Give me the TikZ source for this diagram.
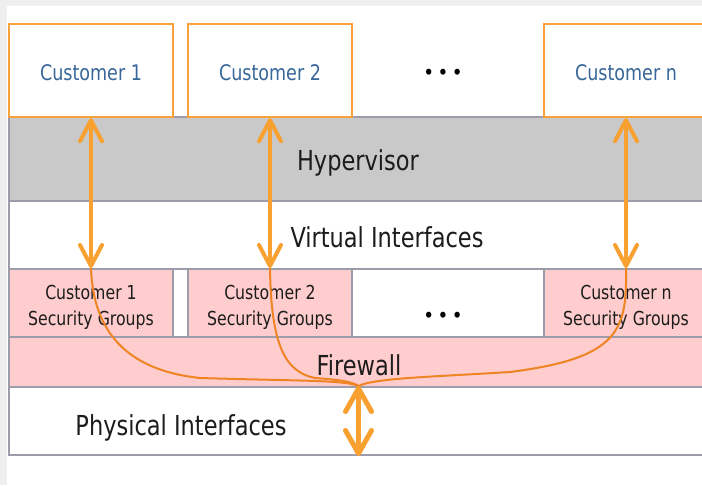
\documentclass[tikz,border=0pt]{standalone}
\usepackage{fontspec}
\setmainfont{DejaVu Sans Condensed}
\usetikzlibrary{arrows.meta}
\definecolor{pagegray}{HTML}{EFEFEF}
\definecolor{edgegray}{HTML}{9C9CAA}
\definecolor{hypgray}{HTML}{C9C9C9}
\definecolor{fwpink}{HTML}{FFCDCD}
\definecolor{boxorange}{HTML}{F9A23C}
\definecolor{arroworange}{HTML}{F8A030}
\definecolor{pathorange}{HTML}{EF8424}
\definecolor{custblue}{HTML}{38679A}
\definecolor{textdark}{HTML}{1C1C1C}
% slightly taller lettering
\newcommand\tallbox[1]{\scalebox{1}[1.1]{#1}}
% lower the lettering without changing the box it sits in
\newcommand\lowerby[2]{\raisebox{-#1}[\height][\depth]{#2}}
\newcommand\threedots{•\hspace{4.5pt}•\hspace{4.5pt}•}
\tikzset{
  band/.style={draw=edgegray, line width=2pt, inner sep=0pt, minimum width=699pt},
  custbox/.style={draw=boxorange, line width=2.4pt, fill=white, inner sep=0pt,
    minimum width=164pt, minimum height=93pt, text=custblue, font=\fontsize{19.5}{22}\selectfont},
  sgbox/.style={draw=edgegray, line width=2pt, fill=fwpink, inner sep=0pt,
    minimum width=164pt, minimum height=68pt, text=textdark,
    font=\fontsize{17.5}{24}\selectfont},
  bigtext/.style={text=textdark, font=\fontsize{25}{28}\selectfont, inner sep=0pt},
  dotstext/.style={font=\fontsize{17}{20}\selectfont\bfseries, inner sep=0pt},
  duplex/.style={draw=arroworange, line width=4pt,
    {Straight Barb[length=21pt,width=22pt,round]}-{Straight Barb[length=21pt,width=22pt,round]}},
  trunk/.style={draw=arroworange, line width=5pt,
    {Straight Barb[length=23pt,width=26pt,round]}-{Straight Barb[length=23pt,width=26pt,round]}},
  route/.style={draw=pathorange, line width=2pt}
}
\newcommand\sglabel[1]{\lowerby{4.5pt}{\tallbox{\begin{tabular}{@{}c@{}}Customer #1\\Security Groups\end{tabular}}}}
\begin{document}
\begin{tikzpicture}[x=1pt,y=-1pt]
  \useasboundingbox (0,0) rectangle (702,485);
  \clip (0,0) rectangle (702,485);
  % page and white panel
  \fill[pagegray] (0,0) rectangle (702,485);
  \fill[white] (7,6) rectangle (710,490);

  % stacked layers
  \node[band, fill=hypgray, minimum height=84pt] (hyp) at (358.5,159) {};
  \node[band, fill=white, minimum height=68pt] (vif) at (358.5,235) {};
  \node[band, fill=white, minimum height=68pt] (sgrow) at (358.5,303) {};
  \node[band, fill=fwpink, minimum height=50pt] (fw) at (358.5,362) {};
  \node[band, fill=white, minimum height=68pt] (phys) at (358.5,421) {};

  % per-customer security groups
  \node[sgbox] (sg1) at (91,303) {\sglabel{1}};
  \node[sgbox] (sg2) at (270,303) {\sglabel{2}};
  \node[sgbox] (sgn) at (626,303) {\sglabel{n}};
  \node[dotstext] (sgdots) at (443,317) {\threedots};

  % customers
  \node[custbox] (c1) at (91,70.5) {\lowerby{2pt}{\tallbox{Customer 1}}};
  \node[custbox] (c2) at (270,70.5) {\lowerby{2pt}{\tallbox{Customer 2}}};
  \node[custbox] (cn) at (626,70.5) {\lowerby{2pt}{\tallbox{Customer n}}};
  \node[dotstext] (cdots) at (443,74) {\threedots};

  % layer labels
  \node[bigtext] (hyplabel) at (358,163) {\tallbox{Hypervisor}};
  \node[bigtext] (viflabel) at (387,237) {\tallbox{Virtual Interfaces}};
  \node[bigtext] (fwlabel) at (359,365) {\tallbox{Firewall}};
  \node[bigtext] (physlabel) at (181,428) {\tallbox{Physical Interfaces}};

  % traffic from each security group into the shared uplink
  \coordinate (merge) at (phys.north);
  \draw[route] (sg1.north) .. controls (93,330) and (125,370) .. (200,378)
                           .. controls (300,381) and (345,380) .. (merge);
  \draw[route] (sg2.north) .. controls (271,345) and (285,372) .. (315,378)
                           .. controls (340,380) and (350,381) .. (merge);
  \draw[route] (sgn.north) .. controls (627,330) and (620,358) .. (510,372)
                           .. controls (430,377) and (375,378) .. (merge);

  % customer <-> security group links
  \draw[duplex] (c1.south) -- (sg1.north);
  \draw[duplex] (c2.south) -- (sg2.north);
  \draw[duplex] (cn.south) -- (sgn.north);
  \draw[trunk] (phys.north) -- (phys.south);
\end{tikzpicture}
\end{document}
